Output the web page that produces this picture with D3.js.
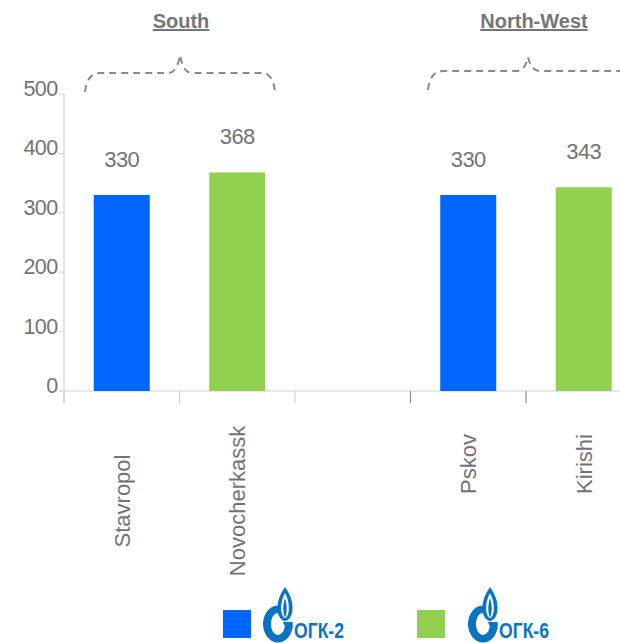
<!DOCTYPE html>
<html>
<head>
<meta charset="utf-8">
<script src="https://cdn.jsdelivr.net/npm/d3@7"></script>
<style>
  html, body { margin: 0; padding: 0; background: #fff; }
  svg { display: block; font-family: "Liberation Sans", Arial, sans-serif; }
</style>
</head>
<body>
<svg id="chart" width="620" height="643"></svg>
<script>
// Plants, with an empty slot separating the two regions
const categories = ["Stavropol", "Novocherkassk", "", "Pskov", "Kirishi"];
const companies  = ["OGK-2", "OGK-6", null, "OGK-2", "OGK-6"];
const values     = [330, 368, null, 330, 343];
const regions    = ["South", "North-West"];
const regionOf   = ["South", "South", null, "North-West", "North-West"];
const yTicks     = [0, 100, 200, 300, 400, 500];
const legendKeys = ["OGK-2", "OGK-6"];
const legendText = ["ОГК-2", "ОГК-6"];

const colors = { "OGK-2": "#0066ff", "OGK-6": "#92d050" };
const textGray = "#737373";
const logoBlue = "#0a74c4";

const svg = d3.select("#chart");

const x = d3.scaleBand().domain(d3.range(categories.length)).range([64, 641.5]);
const y = d3.scaleLinear().domain([0, 500]).range([391, 94]);
const barW = x.bandwidth() * 0.485;

// Axes
svg.append("line").attr("x1", 60).attr("x2", 620).attr("y1", y(0)).attr("y2", y(0))
  .attr("stroke", "#d4d4d4").attr("stroke-width", 1.2);
svg.append("line").attr("x1", 64).attr("x2", 64).attr("y1", y(500)).attr("y2", 403)
  .attr("stroke", "#d4d4d4").attr("stroke-width", 1.2);

// Y ticks and labels
const yg = svg.append("g");
yg.selectAll("line").data(yTicks).join("line")
  .attr("x1", 58).attr("x2", 64).attr("y1", d => y(d)).attr("y2", d => y(d))
  .attr("stroke", "#d4d4d4").attr("stroke-width", 1);
yg.selectAll("text").data(yTicks).join("text")
  .attr("x", 57.5).attr("y", d => y(d) + 2)
  .attr("text-anchor", "end")
  .attr("font-size", 21.5).attr("letter-spacing", -0.6)
  .attr("fill", textGray)
  .text(d => d);

// Category boundary ticks
const bounds = d3.range(categories.length).map(i => x(i));
svg.append("g").selectAll("line").data(bounds).join("line")
  .attr("x1", d => d).attr("x2", d => d).attr("y1", y(0)).attr("y2", 403)
  .attr("stroke", (d, i) => i >= 3 ? "#8c8c8c" : "#d0d0d0").attr("stroke-width", 1.2);

// Bars
const idx = d3.range(categories.length).filter(i => values[i] != null);
svg.append("g").selectAll("rect").data(idx).join("rect")
  .attr("x", i => x(i) + (x.bandwidth() - barW) / 2)
  .attr("width", barW)
  .attr("y", i => y(values[i]))
  .attr("height", i => y(0) - y(values[i]))
  .attr("fill", i => colors[companies[i]]);

// Value labels
svg.append("g").selectAll("text").data(idx).join("text")
  .attr("x", i => x(i) + x.bandwidth() / 2)
  .attr("y", i => y(values[i]) - 28)
  .attr("text-anchor", "middle")
  .attr("font-size", 22).attr("letter-spacing", -0.6)
  .attr("fill", textGray)
  .text(i => values[i]);

// Rotated category labels (centred per region)
const labelCenter = { "South": 501, "North-West": 464 };
svg.append("g").selectAll("text").data(idx).join("text")
  .attr("transform", i => `translate(${x(i) + x.bandwidth() / 2 + 8},${labelCenter[regionOf[i]]}) rotate(-90)`)
  .attr("text-anchor", "middle")
  .attr("font-size", 22)
  .attr("fill", textGray)
  .text(i => categories[i]);

// Region headers with dashed curly braces
const headerX = [181, 534];
svg.append("g").selectAll("text").data(regions).join("text")
  .attr("x", (d, k) => headerX[k]).attr("y", 28)
  .attr("text-anchor", "middle")
  .attr("font-size", 20).attr("font-weight", "bold")
  .attr("text-decoration", "underline")
  .attr("fill", "#767676")
  .text(d => d);

function brace(x0, x1, xm, yBase, yLine, yTip, openEnd) {
  const p = d3.path();
  p.moveTo(x0, yBase);
  p.quadraticCurveTo(x0 + 2, yLine, x0 + 15, yLine);
  p.lineTo(xm - 12, yLine);
  p.quadraticCurveTo(xm - 3, yLine, xm, yTip);
  p.quadraticCurveTo(xm + 3, yLine, xm + 12, yLine);
  if (openEnd) {
    p.lineTo(x1, yLine);
  } else {
    p.lineTo(x1 - 13, yLine);
    p.quadraticCurveTo(x1 - 2, yLine, x1, yBase);
  }
  return p.toString();
}
const braces = [
  brace(85, 275, 180, 92, 73, 55, false),
  brace(428, 625, 528, 90, 71, 57, true)
];
svg.append("g").selectAll("path").data(braces).join("path")
  .attr("d", d => d)
  .attr("fill", "none").attr("stroke", "#8a8a8a").attr("stroke-width", 2)
  .attr("stroke-dasharray", "7,5");

// Legend: colour swatch followed by the company logo
function ellipsePt(cx, cy, rx, ry, deg) {
  const a = deg * Math.PI / 180;
  return [cx + rx * Math.cos(a), cy + ry * Math.sin(a)];
}
function drawLogo(g, text) {
  // Letter G: thick elliptical ring open at the upper right, with an inner bar
  const cx = 17, cy = 37;
  const o0 = ellipsePt(cx, cy, 15, 18.5, -55), o1 = ellipsePt(cx, cy, 15, 18.5, 12);
  const i1 = ellipsePt(cx, cy, 7, 11, 12), i0 = ellipsePt(cx, cy, 7, 11, -55);
  g.append("path")
    .attr("d", `M${o0} A15,18.5 0 1 0 ${o1} L${o1[0]},${cy - 2} L${i1[0] - 2},${cy - 2} L${i1} A7,11 0 1 1 ${i0} Z`)
    .attr("fill", logoBlue);
  // Flame
  g.append("path")
    .attr("d", "M24,0 C18.5,8 16,15 16.5,23 C17,30 21,34 24,34 C27,34 31,30 31.5,23 C32,15 29.5,8 24,0 Z")
    .attr("fill", logoBlue);
  g.append("path")
    .attr("d", "M24,6 C21,12 19.8,17 20.2,23 C20.6,28 22.5,31 24,31 C25.5,31 27.4,28 27.8,23 C28.2,17 27,12 24,6 Z")
    .attr("fill", "#fff");
  g.append("path")
    .attr("d", "M24,11 C22.5,16 22,20 22.4,24 C22.8,28 23.5,30 24,30 C24.5,30 25.2,28 25.6,24 C26,20 25.5,16 24,11 Z")
    .attr("fill", logoBlue);
  g.append("text")
    .attr("x", 33).attr("y", 51)
    .attr("font-family", "'Liberation Sans Narrow', 'Liberation Sans', Arial, sans-serif")
    .attr("font-weight", "bold").attr("font-size", 22)
    .attr("textLength", 50).attr("lengthAdjust", "spacingAndGlyphs")
    .attr("fill", logoBlue)
    .text(text);
}
const swatchX = [223, 417];
const logoX = [261, 466];
legendKeys.forEach((k, j) => {
  svg.append("rect").attr("x", swatchX[j]).attr("y", 610).attr("width", 28).attr("height", 28)
    .attr("fill", colors[k]);
  drawLogo(svg.append("g").attr("transform", `translate(${logoX[j]},587)`), legendText[j]);
});
</script>
</body>
</html>
